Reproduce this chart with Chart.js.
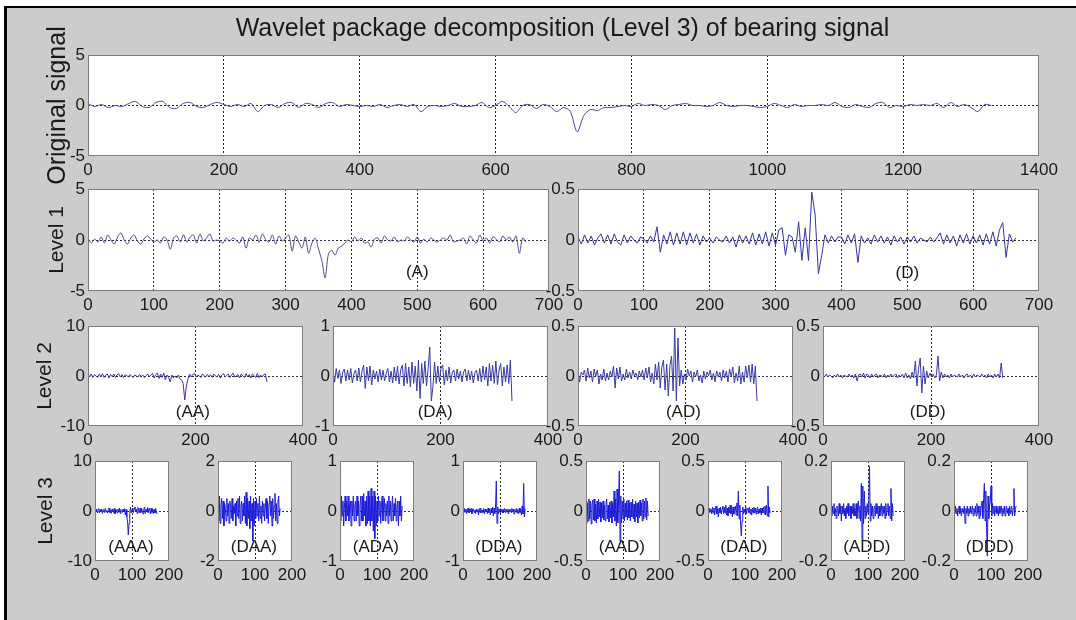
<!DOCTYPE html>
<html>
<head>
<meta charset="utf-8">
<script src="https://cdn.jsdelivr.net/npm/chart.js@4.4.0/dist/chart.umd.min.js"></script>
<style>
  html, body { margin: 0; padding: 0; background: #fff; overflow: hidden; width: 1076px; height: 620px; }
  #fig { position: absolute; left: 4px; top: 6px; width: 1080px; height: 620px; background: #cccccc;
         border-left: 3px solid #000; border-top: 2px solid #000; }
  canvas { position: absolute; }
</style>
</head>
<body>
<div id="fig"></div>
<script>
// tick labels
const origX = [0, 200, 400, 600, 800, 1000, 1200, 1400];
const lvl1X = [0, 100, 200, 300, 400, 500, 600, 700];
const lvl2X = [0, 200, 400];
const lvl3X = [0, 100, 200];

// sample spacing of each level (samples between stored values)
const origStep = 10, lvl1Step = 5, lvl2Step = 3, lvl3Step = 2;

// original signal, read every 10 samples
const origSignal = [
  0.2, -0.1, 0.1, -0.2, 0.0, -0.1, 0.2, 0.4, -0.1, -0.2,
  0.3, 0.4, -0.2, -0.3, 0.2, 0.3, -0.1, -0.2, 0.1, 0.3,
  0.1, -0.1, 0.1, -0.1, 0.2, -0.6, 0.0, 0.1, -0.2, 0.2,
  0.3, -0.2, 0.2, 0.1, -0.2, 0.2, 0.3, -0.1, 0.1, 0.0,
  -0.1, 0.0, -0.1, 0.1, -0.2, 0.0, 0.1, -0.1, 0.1, -0.6,
  -0.1, 0.0, -0.1, 0.0, 0.2, -0.1, -0.1, 0.0, 0.3, -0.2,
  0.0, 0.4, -0.1, -0.7, 0.0, 0.1, -0.3, 0.1, -0.1, -0.6,
  -0.2, -0.6, -2.6, -1.0, -0.4, -0.5, -0.2, -0.2, -0.1, 0.0,
  -0.1, 0.2, 0.0, 0.1, 0.0, -0.4, 0.0, 0.1, 0.2, 0.0,
  0.0, -0.1, 0.0, 0.3, 0.0, -0.1, 0.0, 0.0, -0.1, -0.2,
  -0.1, 0.2, 0.0, -0.2, 0.1, -0.1, 0.0, 0.0, 0.1, 0.0,
  0.3, -0.1, -0.2, 0.1, -0.1, -0.2, 0.2, 0.3, -0.2, 0.0,
  -0.1, 0.1, 0.0, 0.1, 0.0, 0.2, -0.2, 0.3, -0.1, 0.1,
  -0.2, -0.6, 0.1, 0.0
];

// level 1
const level1A = [
  0.2, -0.3, 0.1, -0.2, 0.3, -0.3, 0.5, 0.0, -0.4, 0.3, 0.7, 0.0, -0.4, 0.2, 0.5, -0.1, -0.4, 0.1, 0.4, 0.1,
  -0.2, 0.0, -0.3, 0.3, 0.0, -0.9, 0.2, 0.4, -0.2, 0.5, -0.2, 0.3, 0.5, -0.3, 0.6, -0.1, 0.2, 0.6, -0.1, 0.0,
  -0.1, -0.3, 0.2, -0.1, 0.2, 0.0, -0.3, 0.3, -0.8, 0.2, 0.0, 0.5, -0.2, 0.6, 0.0, -0.2, 0.5, -0.4, 0.4, -0.1,
  0.2, 0.5, -1.1, 0.4, -0.2, -0.8, 0.3, -1.3, -0.3, 0.2, -0.9, -2.0, -3.7, -1.4, -1.0, -1.5, -0.8, -0.6, -0.3, 0.0,
  -0.2, 0.3, -0.1, 0.2, -0.3, -0.2, -0.7, 0.1, 0.2, -0.3, 0.4, 0.0, -0.1, 0.3, -0.2, 0.0, -0.1, 0.3, 0.0, -0.2,
  0.3, -0.3, 0.1, -0.2, 0.2, 0.0, -0.2, 0.0, 0.2, 0.0, 0.5, -0.2, -0.1, 0.0, 0.2, -0.4, 0.4, 0.0, -0.3, 0.5,
  -0.1, 0.2, -0.3, 0.3, 0.1, -0.2, 0.4, 0.0, 0.3, -0.2, 0.4, -1.3, 0.2, -0.2
];
const level1D = [
  0.03, -0.04, 0.05, -0.03, 0.04, -0.05, 0.02, 0.06, -0.03, 0.05, -0.04, 0.06, -0.02, -0.05, 0.05, -0.03, 0.04, 0.0, -0.03, 0.03,
  0.01, -0.03, 0.04, -0.02, 0.13, -0.12, 0.05, -0.04, 0.08, -0.05, 0.07, -0.04, 0.08, -0.05, 0.07, -0.03, 0.06, -0.05, 0.04, -0.02,
  0.02, -0.03, 0.03, 0.0, -0.02, 0.04, -0.03, 0.03, -0.07, 0.05, -0.03, 0.04, -0.04, 0.07, -0.05, 0.06, -0.04, 0.08, -0.06, 0.07,
  -0.05, 0.10, 0.12, -0.15, 0.05, 0.03, -0.12, 0.18, -0.20, 0.12, -0.20, 0.47, 0.25, -0.33, -0.15, 0.05, -0.03, 0.04, -0.02, 0.03,
  0.03, -0.04, 0.05, -0.03, 0.06, -0.22, 0.04, -0.03, 0.02, -0.04, 0.05, -0.02, 0.04, -0.03, 0.03, -0.05, 0.04, -0.02, 0.03, -0.04,
  0.03, -0.02, 0.04, -0.03, 0.02, 0.0, -0.02, 0.03, -0.02, 0.02, 0.07, -0.04, 0.05, -0.03, 0.04, -0.06, 0.05, -0.03, 0.06, -0.04,
  0.04, -0.03, 0.05, -0.05, 0.06, -0.04, 0.08, -0.06, 0.10, 0.17, -0.17, 0.06, -0.02, 0.02
];

// level 2
const level2AA = [
  0.3, -0.2, 0.4, -0.3, 0.3, 0.0, -0.3, 0.4, -0.2, 0.5, -0.3, 0.2, 0.4, -0.4, 0.3, -0.1, 0.4, -0.3, 0.2, 0.5, -0.2, 0.3, -0.3, 0.2, 0.1, -0.2, 0.3, 0.0, -0.3, 0.2,
  0.0, -0.2, 0.3, -0.1, 0.2, -0.3, 0.1, 0.4, -0.2, 0.2, 0.5, -0.4, 0.3, 0.6, -0.5, 0.4, -0.3, 0.6, -0.8, 0.2, -0.3, -1.2, 0.2, -0.4, 0.0, -0.4, 0.2, -0.6, -0.8, -1.5,
  -4.8, -2.0, -0.6, 0.4, -0.2, 0.3, 0.5, -0.2, 0.2, 0.0, -0.3, 0.4, 0.1, -0.2, 0.3, -0.1, 0.2, -0.3, 0.4, 0.0, -0.2, 0.3, -0.4, 0.2, 0.5, -0.2, 0.1, 0.4, -0.3, 0.2,
  0.6, -0.2, 0.0, 0.3, -0.4, 0.4, 0.0, -0.3, 0.5, -0.2, 0.3, -0.4, 0.4, 0.1, -0.3, 0.5, -0.3, 0.2, -0.2, 0.3, 0.4, -1.2
];
const level2DA = [
  0.10, -0.12, 0.15, -0.05, 0.12, -0.15, 0.08, 0.14, -0.10, 0.12, -0.08, 0.15, -0.14, 0.05, 0.12, -0.10, 0.16, -0.12, 0.10, 0.22, -0.25, 0.18, -0.10, 0.20, -0.18, 0.12, -0.06, 0.10, -0.12, 0.14,
  -0.08, 0.12, -0.10, 0.06, 0.15, -0.12, 0.10, -0.14, 0.18, -0.10, 0.20, -0.16, 0.12, 0.22, -0.20, 0.25, -0.15, 0.18, -0.22, 0.28, -0.15, 0.20, -0.30, 0.32, -0.45, 0.25, -0.15, 0.30, -0.20, 0.15,
  0.58, -0.50, -0.20, 0.28, -0.15, 0.20, -0.12, 0.15, 0.22, -0.18, 0.12, -0.10, 0.18, -0.14, 0.08, 0.12, -0.10, 0.14, -0.06, 0.10, -0.12, 0.08, 0.14, -0.10, 0.12, -0.08, 0.10, -0.14, 0.06, 0.12,
  -0.10, 0.15, -0.12, 0.20, -0.08, 0.18, -0.20, 0.25, -0.10, 0.22, -0.15, 0.30, -0.18, 0.12, 0.25, -0.20, 0.18, -0.12, 0.22, -0.15, 0.32, -0.50
];
const level2AD = [
  0.05, -0.06, 0.04, 0.01, 0.06, -0.05, 0.08, -0.02, 0.05, -0.06, 0.07, 0.0, 0.06, -0.08, 0.02, -0.04, 0.07, -0.05, 0.03, -0.04, 0.05, -0.01, 0.10, -0.12, 0.08, -0.03, 0.09, -0.05, 0.02, -0.04,
  0.07, -0.02, 0.04, -0.03, 0.06, 0.0, 0.03, -0.04, 0.05, -0.01, 0.06, -0.04, 0.08, -0.02, 0.09, -0.06, 0.03, -0.08, 0.12, -0.04, 0.14, -0.12, 0.09, 0.16, -0.14, 0.12, -0.20, 0.10, 0.20, -0.15,
  0.48, -0.25, 0.38, -0.10, 0.06, -0.08, 0.02, -0.04, 0.07, 0.0, 0.05, -0.06, 0.04, -0.01, 0.06, -0.05, 0.01, -0.07, 0.05, -0.03, 0.04, 0.0, 0.06, -0.04, 0.03, -0.06, 0.05, -0.01, 0.04, -0.05,
  0.06, -0.02, 0.05, -0.06, 0.07, -0.01, 0.09, -0.07, 0.03, -0.05, 0.10, -0.08, 0.04, -0.06, 0.10, -0.02, 0.11, -0.06, 0.12, -0.08, 0.10, -0.25
];
const level2DD = [
  0.01, -0.01, 0.02, -0.01, 0.01, 0.0, -0.02, 0.01, -0.01, 0.02, -0.01, 0.01, -0.02, 0.01, 0.0, -0.01, 0.02, -0.01, 0.01, -0.02, 0.02, -0.05, 0.01, 0.02, -0.01, 0.03, -0.02, 0.02, 0.01, -0.02,
  0.02, -0.01, 0.01, 0.02, -0.02, 0.01, 0.0, -0.01, 0.02, -0.02, 0.01, -0.01, 0.02, -0.01, 0.01, 0.02, -0.02, 0.01, -0.01, 0.02, -0.02, 0.03, -0.02, 0.01, -0.03, 0.04, -0.02, 0.15, -0.10, 0.08,
  0.18, -0.17, 0.10, -0.08, 0.05, -0.02, 0.03, -0.01, 0.02, -0.02, 0.01, 0.20, -0.05, 0.04, -0.02, 0.02, -0.01, 0.01, -0.02, 0.02, -0.01, 0.01, 0.0, -0.01, 0.02, -0.01, 0.01, -0.02, 0.01, 0.02,
  -0.01, 0.01, -0.02, 0.02, -0.01, 0.01, 0.0, -0.01, 0.02, -0.01, 0.01, -0.02, 0.02, -0.01, 0.01, -0.02, 0.02, -0.01, 0.02, -0.02, 0.13, -0.02
];

// level 3
const level3AAA = [
  0.3, -0.2, 0.4, -0.3, 0.2, 0.5, -0.4, 0.3, -0.1, 0.4, -0.5, 0.2, 0.3, -0.3, 0.5, -0.2, 0.1, -0.4, 0.3, 0.6,
  -0.3, 0.2, -0.5, 0.4, 0.1, -0.3, 0.5, -0.6, 0.3, 0.2, -0.4, 0.4, -0.2, 0.6, -0.5, 0.3, 0.1, -0.3, 0.4, -0.2,
  0.5, -0.8, 0.3, -1.2, -2.0, -4.8, -2.5, -0.6, 0.8, -0.4, 0.3, 0.6, -0.3, 0.5, 0.8, -0.2, 0.4, -0.5, 0.7, 0.2,
  -0.4, 0.6, -0.3, 0.5, 0.1, -0.6, 0.4, 0.8, -0.5, 0.3, -0.2, 0.7, -0.4, 0.5, 0.2, -0.6, 0.6, -0.3, 0.4, -0.5,
  0.3, -0.4, 0.5, -0.2, -0.6
];
const level3DAA = [
  0.3, -0.4, 0.6, -0.5, 0.2, 0.5, -0.3, 0.4, -0.6, 0.3, 0.1, -0.4, 0.5, -0.2, 0.3, -0.5, 0.4, 0.2, -0.3, 0.5,
  -0.4, 0.2, -0.1, 0.3, -0.6, 0.4, -0.2, 0.5, -0.3, 0.6, -0.5, 0.2, 0.4, -0.4, 0.3, -0.2, 0.6, -0.5, 0.75, -0.6,
  0.5, -0.3, 0.4, -0.7, 0.6, -0.4, 0.3, -1.2, 0.5, -0.6, 0.4, -0.3, 0.5, -0.2, 0.3, -0.4, 0.6, -0.3, 0.2, -0.5,
  0.4, -0.2, 0.3, -0.4, 0.2, 0.5, -0.3, 0.4, -0.5, 0.3, 0.6, -0.2, 0.4, -0.6, 0.5, -0.3, 0.2, 0.7, -0.4, 0.3,
  -0.5, 0.4, 0.6, -0.2, 0.1
];
const level3ADA = [
  0.2, -0.2, 0.3, -0.1, 0.2, -0.3, 0.1, 0.3, -0.2, 0.2, -0.1, 0.3, -0.2, 0.1, 0.2, -0.3, 0.2, -0.1, 0.3, -0.2,
  0.1, 0.2, -0.2, 0.3, -0.1, 0.2, -0.3, 0.1, 0.3, -0.2, 0.3, -0.2, 0.35, -0.1, 0.2, -0.3, 0.3, -0.25, 0.4, -0.2,
  0.3, -0.3, 0.45, -0.2, 0.3, -0.4, 0.4, -0.55, 0.3, -0.3, 0.2, -0.2, 0.3, -0.1, 0.2, -0.25, 0.1, 0.3, -0.2, 0.1,
  0.25, -0.2, 0.15, -0.1, 0.2, -0.25, 0.3, -0.1, 0.2, -0.2, 0.1, 0.3, -0.2, 0.15, -0.1, 0.25, -0.2, 0.1, 0.2, -0.3,
  0.2, -0.1, 0.3, -0.2, 0.1
];
const level3DDA = [
  0.03, -0.03, 0.05, -0.02, 0.04, -0.05, 0.02, 0.06, -0.04, 0.03, -0.02, 0.05, -0.06, 0.03, 0.04, -0.03, 0.02, -0.05, 0.04, -0.02,
  0.03, -0.08, 0.05, -0.03, 0.06, -0.04, 0.02, -0.03, 0.05, -0.06, 0.04, -0.02, 0.03, -0.05, 0.06, -0.03, 0.04, -0.08, 0.05, -0.04,
  0.08, -0.10, 0.06, -0.05, 0.10, 0.60, -0.25, 0.08, -0.06, 0.04, -0.03, 0.05, -0.02, 0.03, -0.04, 0.02, 0.05, -0.03, 0.04, -0.02,
  0.03, -0.05, 0.04, -0.02, 0.03, -0.03, 0.05, -0.02, 0.04, -0.06, 0.03, -0.02, 0.05, -0.04, 0.03, -0.05, 0.06, -0.03, 0.04, -0.08,
  0.10, -0.06, 0.55, -0.12, 0.05
];
const level3AAD = [
  0.10, -0.12, 0.08, -0.10, 0.12, -0.08, 0.10, -0.13, 0.06, 0.11, -0.09, 0.12, -0.10, 0.07, -0.12, 0.10, -0.08, 0.12, -0.06, 0.09,
  -0.11, 0.08, -0.07, 0.10, -0.09, 0.06, -0.10, 0.08, 0.12, -0.08, 0.06, -0.11, 0.09, -0.07, 0.10, -0.12, 0.08, -0.06, 0.20, -0.10,
  0.12, -0.15, 0.22, -0.12, 0.10, 0.40, -0.30, 0.15, -0.12, 0.10, -0.08, 0.12, -0.10, 0.08, -0.06, 0.10, -0.09, 0.11, -0.07, 0.08,
  -0.10, 0.09, -0.06, 0.12, -0.08, 0.07, -0.11, 0.10, -0.06, 0.08, -0.12, 0.09, -0.07, 0.11, -0.05, 0.08, -0.10, 0.12, -0.08, 0.10,
  -0.06, 0.13, -0.09, 0.10, -0.05
];
const level3DAD = [
  0.02, -0.02, 0.03, -0.01, 0.02, -0.03, 0.04, -0.02, 0.03, -0.04, 0.02, 0.05, -0.03, 0.02, -0.06, 0.03, -0.02, 0.04, -0.03, 0.02,
  0.05, -0.03, 0.04, -0.02, 0.06, -0.04, 0.03, -0.05, 0.04, -0.02, 0.06, -0.03, 0.05, -0.06, 0.04, -0.03, 0.02, 0.05, -0.04, 0.08,
  -0.05, 0.20, -0.08, 0.06, -0.12, -0.25, -0.10, 0.04, -0.03, 0.02, -0.02, 0.04, -0.03, 0.02, 0.03, -0.02, 0.04, -0.03, 0.02, -0.04,
  0.03, -0.02, 0.04, -0.02, 0.03, -0.03, 0.02, 0.04, -0.03, 0.02, -0.02, 0.03, -0.04, 0.03, -0.02, 0.04, -0.03, 0.05, -0.04, 0.06,
  -0.05, 0.25, -0.06, 0.04, -0.02
];
const level3ADD = [
  0.01, -0.02, 0.02, -0.01, 0.03, -0.02, 0.01, -0.03, 0.02, 0.01, -0.02, 0.03, -0.01, 0.02, -0.04, 0.02, -0.01, 0.03, -0.02, 0.01,
  -0.03, 0.02, -0.01, 0.03, -0.02, 0.01, 0.02, -0.03, 0.02, -0.01, 0.03, -0.02, 0.01, -0.02, 0.03, -0.03, 0.02, 0.04, -0.03, 0.02,
  -0.04, 0.11, -0.12, 0.10, -0.05, 0.08, -0.03, 0.02, -0.02, 0.03, -0.01, 0.02, 0.18, -0.04, 0.03, -0.02, 0.02, -0.03, 0.01, 0.02,
  -0.02, 0.03, -0.01, 0.02, -0.03, 0.02, -0.02, 0.01, 0.03, -0.02, 0.02, -0.01, 0.02, -0.03, 0.03, -0.02, 0.01, 0.03, -0.02, 0.02,
  -0.03, 0.09, -0.04, 0.03, -0.02
];
const level3DDD = [
  0.01, -0.01, 0.02, -0.01, 0.01, -0.02, 0.01, 0.02, -0.01, 0.01, -0.02, 0.01, 0.0, -0.01, 0.02, -0.05, 0.01, -0.01, 0.02, -0.02,
  0.01, -0.01, 0.02, -0.01, 0.01, 0.02, -0.02, 0.01, -0.01, 0.02, -0.02, 0.03, -0.01, 0.02, -0.03, 0.02, -0.02, 0.03, 0.04, -0.03,
  0.05, 0.11, -0.04, 0.08, -0.06, -0.18, 0.06, -0.03, 0.02, 0.04, 0.10, -0.02, 0.03, -0.01, 0.02, -0.02, 0.01, 0.02, -0.01, 0.01,
  -0.02, 0.02, -0.01, 0.01, 0.02, -0.02, 0.01, -0.01, 0.02, -0.02, 0.01, 0.02, -0.01, 0.01, -0.02, 0.02, -0.01, 0.01, 0.02, -0.02,
  0.01, 0.09, -0.02, 0.01, 0.02
];

Chart.defaults.font.family = '"Liberation Sans", Arial, sans-serif';
Chart.defaults.color = '#1a1a1a';

// white plot area, grey box, panel tag like "(A)" and the figure heading
const frame = {
  id: 'frame',
  beforeDraw(chart) {
    const a = chart.chartArea, c = chart.ctx;
    c.save();
    c.fillStyle = '#fff';
    c.fillRect(a.left, a.top, a.width, a.height);
    c.restore();
  },
  afterDraw(chart, args, opts) {
    const a = chart.chartArea, c = chart.ctx;
    c.save();
    c.strokeStyle = '#7c7c7c';
    c.lineWidth = 1;
    c.strokeRect(Math.round(a.left) + 0.5, Math.round(a.top) + 0.5, Math.round(a.width) - 1, Math.round(a.height) - 1);
    c.fillStyle = '#1a1a1a';
    c.textAlign = 'center';
    c.textBaseline = 'middle';
    if (opts.tag) {
      c.font = '17px "Liberation Sans", Arial, sans-serif';
      c.fillText(opts.tag, chart.scales.x.getPixelForValue(opts.tagAt[0]), chart.scales.y.getPixelForValue(opts.tagAt[1]));
    }
    if (opts.heading) {
      c.font = '25px "Liberation Sans", Arial, sans-serif';
      c.fillText(opts.heading, (a.left + a.right) / 2 - 1, a.top - 26);
    }
    c.restore();
  }
};

const lvl3Left = [95, 218, 340, 463, 586, 708, 831, 954];
const lvl3Names = ['AAA', 'DAA', 'ADA', 'DDA', 'AAD', 'DAD', 'ADD', 'DDD'];
const lvl3Data = [level3AAA, level3DAA, level3ADA, level3DDA, level3AAD, level3DAD, level3ADD, level3DDD];
const lvl3Y = [[-10, 0, 10], [-2, 0, 2], [-1, 0, 1], [-1, 0, 1], [-0.5, 0, 0.5], [-0.5, 0, 0.5], [-0.2, 0, 0.2], [-0.2, 0, 0.2]];

const panels = [
  { data: origSignal, step: origStep, xTicks: origX, yTicks: [-5, 0, 5], L: 88, T: 55, W: 951, H: 101, padL: 88, padT: 55,
    color: '#4d4d9c', tension: 0.3, ylabel: 'Original signal', ylabelSize: 25, ylabelX: 58,
    heading: 'Wavelet package decomposition (Level 3) of bearing signal' },
  { data: level1A, step: lvl1Step, xTicks: lvl1X, yTicks: [-5, 0, 5], L: 88, T: 189, W: 461, H: 102, padL: 88,
    color: '#4d4d9c', tension: 0.3, ylabel: 'Level 1', ylabelSize: 21, ylabelX: 57, tag: '(A)', tagAt: [500, -3.2] },
  { data: level1D, step: lvl1Step, xTicks: lvl1X, yTicks: [-0.5, 0, 0.5], L: 578, T: 189, W: 461, H: 102,
    color: '#3434a6', tension: 0, tag: '(D)', tagAt: [500, -0.33] },
  { data: level2AA, step: lvl2Step, xTicks: lvl2X, yTicks: [-10, 0, 10], L: 88, T: 326, W: 215, H: 100, padL: 88,
    color: '#3a3aa8', tension: 0, ylabel: 'Level 2', ylabelSize: 21, ylabelX: 45, tag: '(AA)', tagAt: [195, -7.2] },
  { data: level2DA, step: lvl2Step, xTicks: lvl2X, yTicks: [-1, 0, 1], L: 333, T: 326, W: 215, H: 100,
    color: '#3a3aa8', tension: 0, tag: '(DA)', tagAt: [190, -0.72] },
  { data: level2AD, step: lvl2Step, xTicks: lvl2X, yTicks: [-0.5, 0, 0.5], L: 578, T: 326, W: 215, H: 100,
    color: '#3a3aa8', tension: 0, tag: '(AD)', tagAt: [196, -0.36] },
  { data: level2DD, step: lvl2Step, xTicks: lvl2X, yTicks: [-0.5, 0, 0.5], L: 823, T: 326, W: 216, H: 100,
    color: '#3a3aa8', tension: 0, tag: '(DD)', tagAt: [194, -0.36] }
];
lvl3Names.forEach((name, i) => {
  const yt = lvl3Y[i];
  const p = { data: lvl3Data[i], step: lvl3Step, xTicks: lvl3X, yTicks: yt, L: lvl3Left[i], T: 461, W: 74, H: 100,
    color: '#1d1dd8', tension: 0, tag: '(' + name + ')', tagAt: [97, yt[2] * -0.72] };
  if (i === 0) { p.padL = 95; p.ylabel = 'Level 3'; p.ylabelSize = 21; p.ylabelX = 46; }
  panels.push(p);
});

function gridColor(lo, hi) {
  return c => (c.tick && (c.tick.value === lo || c.tick.value === hi)) ? 'rgba(0,0,0,0)' : '#2a2a2a';
}

function makePanel(p) {
  const padL = p.padL || 50, padT = p.padT || 14, padR = 34, padB = 30;
  const cv = document.createElement('canvas');
  cv.width = p.W + padL + padR;
  cv.height = p.H + padT + padB;
  cv.style.left = (p.L - padL) + 'px';
  cv.style.top = (p.T - padT) + 'px';
  document.body.appendChild(cv);

  const xMin = p.xTicks[0], xMax = p.xTicks[p.xTicks.length - 1];
  const yMin = p.yTicks[0], yMax = p.yTicks[p.yTicks.length - 1];
  const lh = (p.ylabelSize || 21) * 1.2;
  const titlePad = p.ylabel ? p.ylabelX - (p.L - padL) - lh / 2 : 0;

  new Chart(cv, {
    type: 'line',
    data: {
      datasets: [{
        data: p.data.map((v, i) => ({ x: i * p.step, y: v })),
        borderColor: p.color,
        borderWidth: 1,
        pointRadius: 0,
        tension: p.tension,
        fill: false
      }]
    },
    options: {
      responsive: false,
      animation: false,
      events: [],
      layout: { padding: { top: padT, right: padR, left: 0, bottom: 0 } },
      plugins: {
        legend: { display: false },
        tooltip: { enabled: false },
        frame: { tag: p.tag, tagAt: p.tagAt, heading: p.heading }
      },
      scales: {
        x: {
          type: 'linear', min: xMin, max: xMax,
          afterBuildTicks: s => { s.ticks = p.xTicks.map(v => ({ value: v })); },
          afterFit: s => { s.height = padB; },
          ticks: { autoSkip: false, maxRotation: 0, minRotation: 0, padding: 4, color: '#1a1a1a',
                   font: { size: 17 }, callback: v => String(v) },
          grid: { color: gridColor(xMin, xMax), drawTicks: false, lineWidth: 1 },
          border: { display: false, dash: [2, 2] }
        },
        y: {
          type: 'linear', min: yMin, max: yMax,
          afterBuildTicks: s => { s.ticks = p.yTicks.map(v => ({ value: v })); },
          afterFit: s => { s.width = padL; },
          ticks: { autoSkip: false, padding: 3, color: '#1a1a1a', font: { size: 17 }, callback: v => String(v) },
          grid: { color: gridColor(yMin, yMax), drawTicks: false, lineWidth: 1 },
          border: { display: false, dash: [2, 2] },
          title: { display: !!p.ylabel, text: p.ylabel || '', color: '#1a1a1a',
                   font: { size: p.ylabelSize || 21 }, padding: { top: titlePad, bottom: 0 } }
        }
      }
    },
    plugins: [frame]
  });
}

panels.forEach(makePanel);
</script>
</body>
</html>
